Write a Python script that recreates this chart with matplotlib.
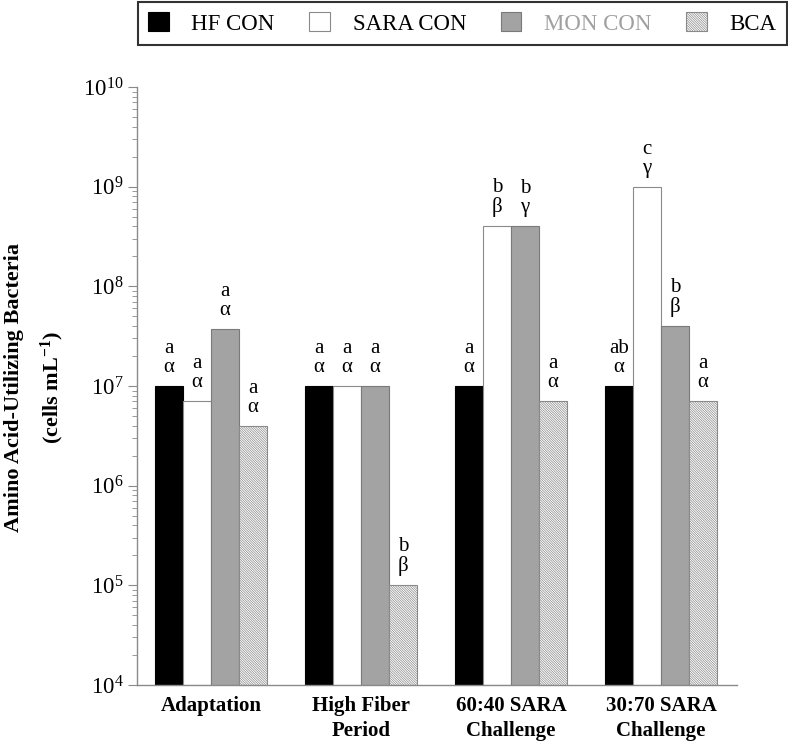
import numpy as np
import matplotlib
matplotlib.use("Agg")
import matplotlib.pyplot as plt
from matplotlib.ticker import NullFormatter

plt.rcParams['font.family'] = ['Liberation Serif', 'DejaVu Serif']
plt.rcParams['mathtext.fontset'] = 'custom'
plt.rcParams['mathtext.rm'] = 'Liberation Serif'
plt.rcParams['mathtext.it'] = 'Liberation Serif:italic'
plt.rcParams['mathtext.bf'] = 'Liberation Serif:bold'
plt.rcParams['hatch.linewidth'] = 0.5
plt.rcParams['hatch.color'] = '#8a8a8a'

# data
periods = ["Adaptation", "High Fiber\nPeriod", "60:40 SARA\nChallenge", "30:70 SARA\nChallenge"]
series = ["HF CON", "SARA CON", "MON CON", "BCA"]
hf_con = [1e7, 1e7, 1e7, 1e7]
sara_con = [7e6, 1e7, 4e8, 1e9]
mon_con = [3.7e7, 1e7, 4e8, 4e7]
bca = [4e6, 1e5, 7e6, 7e6]
hf_letters = ["a\nα", "a\nα", "a\nα", "ab\nα"]
sara_letters = ["a\nα", "a\nα", "b\nβ", "c\nγ"]
mon_letters = ["a\nα", "a\nα", "b\nγ", "b\nβ"]
bca_letters = ["a\nα", "b\nβ", "a\nα", "a\nα"]

values = [hf_con, sara_con, mon_con, bca]
letters = [hf_letters, sara_letters, mon_letters, bca_letters]
styles = [
    dict(color="black", edgecolor="black"),
    dict(color="white", edgecolor="#8a8a8a"),
    dict(color="#a3a3a3", edgecolor="#7a7a7a"),
    dict(color="white", edgecolor="#8a8a8a", hatch="\\" * 14),
]

base = 1e4
fig = plt.figure(figsize=(7.88, 7.42), dpi=100)
ax = fig.add_axes([137/788, 57/742, 600/788, 598/742])

x = np.arange(len(periods))
w = 0.187
handles = []
for i, (vals, st) in enumerate(zip(values, styles)):
    pos = x + (i - 1.5) * w
    heights = [v - base for v in vals]
    b = ax.bar(pos, heights, w, bottom=base, linewidth=0.8, label=series[i], **st)
    handles.append(b)
    for px, v, t in zip(pos, vals, letters[i]):
        ax.annotate(t, (px, v), xytext=(0, 6.5), textcoords="offset points",
                    ha="center", va="bottom", fontsize=15, linespacing=1.0)

ax.set_yscale("log")
ax.set_ylim(base, 1e10)
ax.yaxis.set_minor_formatter(NullFormatter())
ax.set_xlim(-0.493, 3.507)
ax.set_xticks(x)
ax.set_xticklabels(periods, fontsize=15, fontweight="bold", linespacing=1.35)
ax.tick_params(axis="x", length=0, pad=8)
ax.tick_params(axis="y", which="major", labelsize=16.5, length=6.5, color="#8a8a8a", pad=3)
ax.tick_params(axis="y", which="minor", length=3.6, color="#8a8a8a")
for s in ["top", "right"]:
    ax.spines[s].set_visible(False)
for s in ["left", "bottom"]:
    ax.spines[s].set_color("#8a8a8a")
    ax.spines[s].set_linewidth(1.0)

fig.text(35/788, 1 - 388/742, "Amino Acid-Utilizing Bacteria\n(cells mL$^{\\mathbf{-1}}$)",
         rotation=90, ha="center", va="center", multialignment="center",
         fontsize=16, fontweight="bold", linespacing=1.75)

leg = fig.legend(handles=handles, loc="upper right", bbox_to_anchor=(787/788, 1 - 2/742),
                 ncol=4, prop=dict(family="Liberation Serif", size=16.5), frameon=True,
                 fancybox=False, edgecolor="black",
                 handlelength=0.9, handleheight=0.9, handletextpad=1.0, columnspacing=1.5,
                 borderpad=0.45, borderaxespad=0)
leg.get_frame().set_linewidth(1.5)
leg.get_texts()[2].set_color("#a0a0a0")

fig.savefig("out.png", dpi=100)
